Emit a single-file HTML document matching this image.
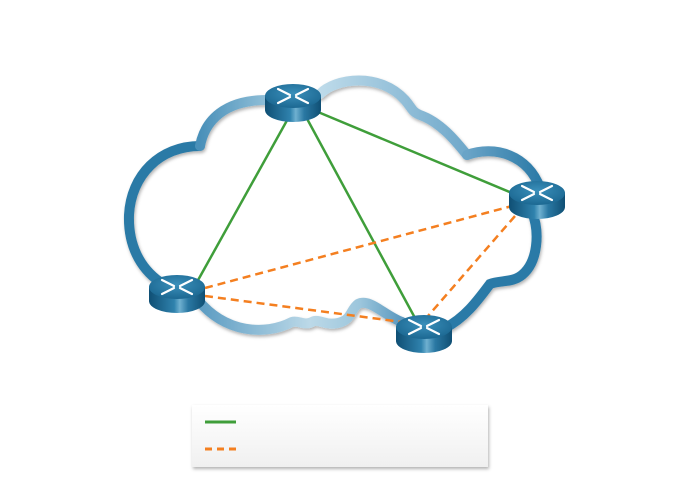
<!DOCTYPE html>
<html><head><meta charset="utf-8"><style>html,body{margin:0;padding:0;background:#fff;width:680px;height:490px;overflow:hidden}</style></head>
<body>
<svg width="680" height="490" viewBox="0 0 680 490" xmlns="http://www.w3.org/2000/svg">
<defs>
<linearGradient id="body" x1="0" x2="1" y1="0" y2="0">
<stop offset="0" stop-color="#0f4f74"/><stop offset="0.45" stop-color="#2f82ad"/><stop offset="0.55" stop-color="#6fb0d0"/><stop offset="0.7" stop-color="#2a78a3"/><stop offset="1" stop-color="#0f4f74"/></linearGradient>
<radialGradient id="top" cx="0.5" cy="0.4" r="0.6"><stop offset="0" stop-color="#3a8fba"/><stop offset="1" stop-color="#1c6892"/></radialGradient>
<linearGradient id="lg" x1="0" y1="0" x2="0" y2="1"><stop offset="0" stop-color="#fff"/><stop offset="1" stop-color="#f0f0f0"/></linearGradient>
<linearGradient id="gB" gradientUnits="userSpaceOnUse" x1="200" y1="0" x2="267" y2="0"><stop offset="0" stop-color="#4a90b9"/><stop offset="1" stop-color="#90bfd8"/></linearGradient>
<linearGradient id="gC" gradientUnits="userSpaceOnUse" x1="320" y1="0" x2="467" y2="0"><stop offset="0" stop-color="#bedbea"/><stop offset="1" stop-color="#6fa8ca"/></linearGradient>
<linearGradient id="gD" gradientUnits="userSpaceOnUse" x1="467" y1="0" x2="540" y2="0"><stop offset="0" stop-color="#6aa4c7"/><stop offset="1" stop-color="#2b7aa7"/></linearGradient>
<linearGradient id="gF" gradientUnits="userSpaceOnUse" x1="200" y1="0" x2="400" y2="0"><stop offset="0" stop-color="#5c9cc2"/><stop offset="0.55" stop-color="#bcd9e8"/><stop offset="0.8" stop-color="#9cc6dc"/><stop offset="1" stop-color="#5d9ac0"/></linearGradient>
<filter id="sh" x="-20%" y="-20%" width="140%" height="150%"><feDropShadow dx="1" dy="2" stdDeviation="1.5" flood-color="#000" flood-opacity="0.3"/></filter>
</defs>
<g fill="none" stroke-width="10" stroke-linecap="round" filter="url(#sh)">
<path d="M160,282 C140,268 128,245 129,215 C131,175 160,146 200,146" stroke="#2a7aa6"/>
<path d="M200,146 C205,120 225,100 267,100" stroke="url(#gB)"/>
<path d="M320,94 C335,78 380,72 405,100 C412,108 412,112 420,115 C440,122 455,140 467,155" stroke="url(#gC)"/>
<path d="M467,155 C495,145 528,155 540,188" stroke="url(#gD)"/>
<path d="M532,212 C540,232 538,262 522,275 C512,283 500,280 490,284 C478,300 465,318 445,328" stroke="#2b7aa7"/>
<path d="M402,322 C385,316 370,298 358,304 C350,310 352,320 338,323 C325,326 318,318 312,322 C305,326 298,320 292,322 C265,336 225,333 198,300" stroke="url(#gF)"/>
</g>
<g stroke-width="2.5" fill="none">
<line x1="290" y1="115" x2="197" y2="282" stroke="#3f9e3a"/>
<line x1="305" y1="115" x2="415" y2="318" stroke="#3f9e3a"/>
<line x1="318" y1="112" x2="512" y2="193" stroke="#3f9e3a"/>
<g stroke="#f47f20" stroke-dasharray="8,5">
<line x1="205" y1="288" x2="512" y2="206"/>
<line x1="205" y1="296" x2="402" y2="322"/>
<line x1="515" y1="216" x2="428" y2="316"/>
</g></g>
<defs>
<g id="rt"><path d="M-28,0 V14 A28,12 0 0 0 28,14 V0 Z" fill="url(#body)"/><ellipse rx="28" ry="12" fill="url(#top)"/><path d="M-15,-7 L-3,-1 M15,-7 L3,-1 M-15,7 L-3,1 M15,7 L3,1" stroke="#fff" stroke-width="2.2" stroke-linecap="round"/></g>
</defs>
<use href="#rt" x="293" y="96"/>
<use href="#rt" x="537" y="193"/>
<use href="#rt" x="177" y="287"/>
<use href="#rt" x="424" y="327"/>
<rect x="192" y="405" width="296" height="62" fill="url(#lg)" filter="url(#sh)"/>
<line x1="205" y1="422" x2="236" y2="422" stroke="#3f9e3a" stroke-width="3"/>
<line x1="205" y1="449" x2="236" y2="449" stroke="#f47f20" stroke-width="3" stroke-dasharray="7,5"/>
</svg>
</body></html>
